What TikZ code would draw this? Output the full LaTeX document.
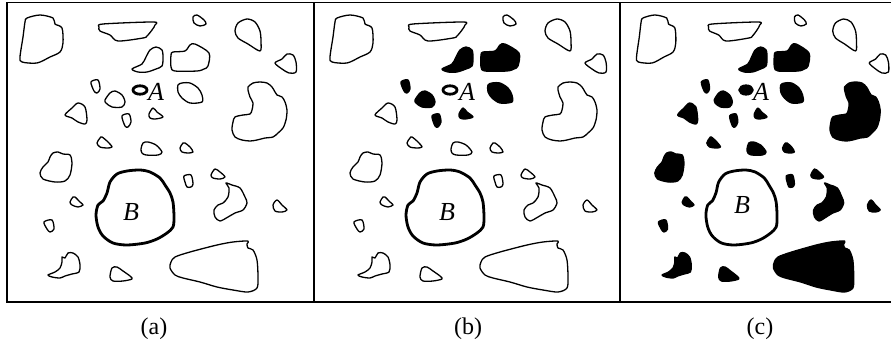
\documentclass[tikz,border=0pt]{standalone}
\usepackage{fontspec}
\setmainfont{Liberation Serif}
\tikzset{
  shp/.style={draw=black, line width=1.3pt, line join=round},
  thk/.style={draw=black, line width=2.8pt, line join=round},
  fl/.style={fill=black},
  nofl/.style={},
  sm/.style={smooth cycle, tension=0.5},
  lbl/.style={font=\fontsize{24}{28}\selectfont, anchor=base, inner sep=0pt},
  let/.style={font=\fontsize{26}{30}\selectfont\itshape, anchor=base, inner sep=0pt},
  frame/.style={line width=1.3pt}
}
\newcommand{\drawblobs}[2]{%
  % always outlined
  \draw[shp] plot[sm] coordinates {(27,18) (40,15) (53,18) (55,24) (62,28) (63,43) (60,52) (50,57) (37,63) (22,62) (20,57) (23,37) (25,22)};
  \draw[shp] plot[sm] coordinates {(99,27) (103,24) (153,22) (155,25) (152,30) (147,36) (143,38) (118,41) (110,35) (100,31)};
  \draw[shp] plot[sm] coordinates {(193,17) (197,15) (204,20) (206,24) (200,26) (194,23)};
  \draw[shp] plot[sm] coordinates {(235,31) (238,23) (247,19) (255,22) (260,31) (261,42) (260,51) (248,44) (238,38)};
  \draw[shp] plot[sm] coordinates {(275,63) (282,59) (287,54) (293,55) (296,62) (296,72) (289,73) (282,69)};
  \draw[thk] plot[sm] coordinates {(110,182) (117,174) (127,171) (140,170) (150,172) (160,178) (165,185) (170,193) (173,202) (174,217) (173,227) (167,233) (157,239) (145,243) (127,245) (113,243) (103,236) (98,227) (96,215) (98,205) (103,201) (107,193)};
  % group 1
  \draw[shp,#1] plot[sm] coordinates {(132,69) (142,64) (146,57) (150,50) (156,47) (162,50) (163,58) (162,66) (156,69) (147,72) (138,72)};
  \draw[shp,#1] plot[sm] coordinates {(171,55) (173,52) (185,51) (190,45) (195,44) (209,53) (208,66) (204,69) (197,71) (175,71) (171,67)};
  \draw[shp,#1] plot[sm] coordinates {(91,82) (98,80) (100,89) (97,93) (94,91)};
  \draw[shp,#1] plot[sm] coordinates {(105,100) (110,93) (115,91) (122,95) (125,102) (122,107) (112,107) (106,103)};
  \draw[shp,#1] plot[sm] coordinates {(122,116) (129,114) (131,122) (128,127) (125,126)};
  \draw[shp,#1] plot[sm] coordinates {(149,114) (153,108) (157,112) (163,117) (155,119) (150,118)};
  \draw[shp,#1] plot[sm] coordinates {(178,85) (182,83) (190,83) (198,88) (202,95) (202,102) (190,103) (182,98) (178,92)};
  % group 2
  \draw[thk,#2] (140,90) ellipse [x radius=7, y radius=4.2];
  \draw[shp,#2] plot[sm] coordinates {(65,115) (72,108) (78,103) (85,107) (87,120) (85,124) (78,122) (72,118)};
  \draw[shp,#2] plot[sm] coordinates {(97,143) (100,138) (102,137) (108,142) (112,147) (107,148) (100,147)};
  \draw[shp,#2] plot[sm] coordinates {(141,149) (143,143) (148,142) (156,145) (162,152) (158,155) (146,155) (142,153)};
  \draw[shp,#2] plot[sm] coordinates {(180,148) (183,143) (185,143) (190,147) (193,152) (188,153) (182,152)};
  \draw[shp,#2] plot[sm] coordinates {(248,87) (253,83) (260,82) (267,83) (272,87) (275,92) (277,95) (282,97) (285,102) (287,110) (286,120) (283,128) (278,133) (273,137) (265,138) (257,140) (250,141) (242,140) (235,137) (232,130) (233,122) (235,117) (243,115) (250,114) (252,110) (253,103) (250,97) (248,90)};
  \draw[shp,#2] plot[sm] coordinates {(40,173) (43,167) (48,162) (50,157) (53,153) (58,152) (63,154) (70,155) (72,163) (70,175) (65,181) (55,182) (43,179)};
  \draw[shp,#2] plot[sm] coordinates {(70,202) (73,197) (75,197) (80,202) (83,205) (78,207) (72,205)};
  \draw[shp,#2] plot[sm] coordinates {(44,222) (52,220) (54,229) (50,232) (47,229)};
  \draw[shp,#2] plot[sm] coordinates {(184,176) (191,175) (193,184) (191,187) (187,187) (185,182)};
  \draw[shp,#2] plot[sm] coordinates {(211,175) (215,169) (220,172) (225,177) (220,179) (213,178)};
  \draw[shp,#2] plot[sm] coordinates {(226,183) (232,185) (240,188) (245,197) (247,203) (243,210) (235,213) (228,217) (220,221) (215,217) (214,210) (218,205) (223,203) (228,197) (229,188)};
  \draw[shp,#2] plot[sm] coordinates {(273,205) (277,200) (282,205) (287,210) (282,212) (275,211)};
  \draw[shp,#2] plot[sm] coordinates {(48,275) (55,272) (60,268) (62,262) (62,257) (65,258) (68,253) (73,253) (78,257) (80,265) (79,272) (72,274) (65,276) (60,278) (52,277)};
  \draw[shp,#2] plot[sm] coordinates {(112,268) (117,267) (123,271) (130,276) (132,279) (123,281) (113,281) (110,277)};
  \draw[shp,#2] plot[sm] coordinates {(171,262) (175,257) (190,252) (217,245) (233,242) (248,241) (247,244) (248,248) (253,250) (257,260) (258,277) (257,288) (248,292) (233,290) (217,287) (200,282) (183,278) (175,275) (170,268)};
}
\begin{document}
\begin{tikzpicture}[x=1pt, y=-1pt]
  \useasboundingbox (0,0) rectangle (891,343);
  % frame
  \draw[frame] (891,2.5) -- (7,2.5) -- (7,302) -- (891,302);
  \draw[frame] (314,2.5) -- (314,302);
  \draw[frame] (620,2.5) -- (620,302);
  % panel a
  \begin{scope}
    \drawblobs{nofl}{nofl}
  \end{scope}
  \node[let] (Aa) at (156,100) {A};
  \node[let] (Ba) at (131,220) {B};
  \node[lbl] (la) at (154,334) {(a)};
  % panel b
  \begin{scope}[shift={(310,0)}]
    \drawblobs{fl}{nofl}
  \end{scope}
  \node[let] (Ab) at (467,100) {A};
  \node[let] (Bb) at (447,220) {B};
  \node[lbl] (lb) at (468,334) {(b)};
  % panel c
  \begin{scope}
    \clip (620,2.5) rectangle (891,302);
    \begin{scope}[shift={(618.3,0)}, xscale=0.9125]
      \drawblobs{fl}{fl}
    \end{scope}
  \end{scope}
  \node[let] (Ac) at (761,100) {A};
  \node[let] (Bc) at (742,213) {B};
  \node[lbl] (lc) at (760,334) {(c)};
\end{tikzpicture}
\end{document}
